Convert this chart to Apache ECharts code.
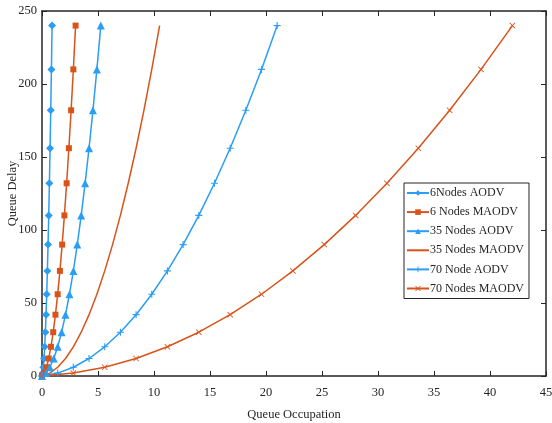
<!DOCTYPE html>
<html>
<head>
<meta charset="utf-8">
<script src="https://cdn.jsdelivr.net/npm/echarts@6/dist/echarts.min.js"></script>
<style>
  html, body { margin: 0; padding: 0; background: #fff; }
  #chart { width: 552px; height: 423px; }
</style>
</head>
<body>
<div id="chart"></div>
<script>
// Queue delay values shared by every curve
const queueDelay = [0, 2, 6, 12, 20, 30, 42, 56, 72, 90, 110, 132, 156, 182, 210, 240];

// Queue occupation for each scenario
const occ6Aodv   = [0, 0.06, 0.12, 0.18, 0.24, 0.30, 0.36, 0.42, 0.48, 0.54, 0.60, 0.66, 0.72, 0.78, 0.84, 0.90];
const occ6Maodv  = [0, 0.2, 0.4, 0.6, 0.8, 1.0, 1.2, 1.4, 1.6, 1.8, 2.0, 2.2, 2.4, 2.6, 2.8, 3.0];
const occ35Aodv  = [0, 0.35, 0.7, 1.05, 1.4, 1.75, 2.1, 2.45, 2.8, 3.15, 3.5, 3.85, 4.2, 4.55, 4.9, 5.25];
const occ35Maodv = [0, 0.7, 1.4, 2.1, 2.8, 3.5, 4.2, 4.9, 5.6, 6.3, 7.0, 7.7, 8.4, 9.1, 9.8, 10.5];
const occ70Aodv  = [0, 1.4, 2.8, 4.2, 5.6, 7.0, 8.4, 9.8, 11.2, 12.6, 14.0, 15.4, 16.8, 18.2, 19.6, 21.0];
const occ70Maodv = [0, 2.8, 5.6, 8.4, 11.2, 14.0, 16.8, 19.6, 22.4, 25.2, 28.0, 30.8, 33.6, 36.4, 39.2, 42.0];

const seriesNames = ['6Nodes AODV', '6 Nodes MAODV', '35 Nodes AODV', '35 Nodes MAODV', '70 Node AODV', '70 Nodes MAODV'];
const xTicks = [0, 5, 10, 15, 20, 25, 30, 35, 40, 45];
const yTicks = [0, 50, 100, 150, 200, 250];

const BLUE = '#2a9df4';
const ORANGE = '#d95319';
const AXIS = '#262626';
const FONT = 'Liberation Serif';

const plusPath = 'path://M4.2,0H5.8V4.2H10V5.8H5.8V10H4.2V5.8H0V4.2H4.2Z';
const starPath = 'path://M1,0L5,4L9,0L10,1L6,5L10,9L9,10L5,6L1,10L0,9L4,5L0,1Z';

function pairs(xs) {
  return xs.map((x, i) => [x, queueDelay[i]]);
}

function makeSeries(name, xs, color, symbol, size) {
  return {
    name: name,
    type: 'line',
    data: pairs(xs),
    symbol: symbol,
    symbolSize: size,
    showSymbol: symbol !== 'none',
    lineStyle: { color: color, width: 1.5 },
    itemStyle: { color: color },
    emphasis: { disabled: true },
    animation: false
  };
}

const chart = echarts.init(document.getElementById('chart'), null, { renderer: 'canvas' });

const axisCommon = {
  axisLine: { show: true, onZero: false, lineStyle: { color: AXIS, width: 1.5 } },
  axisTick: { show: true, inside: true, length: 5, lineStyle: { color: AXIS, width: 1 } },
  splitLine: { show: false }
};

// Legend entries; the plain orange curve gets a bare line icon
const legendData = seriesNames.map((n, i) => (i === 3
  ? { name: n, itemStyle: { color: 'rgba(0,0,0,0)', borderWidth: 0 } }
  : { name: n }));

chart.setOption({
  backgroundColor: '#fff',
  animation: false,
  grid: { left: 42, right: 6, top: 11, bottom: 47, containLabel: false, outerBoundsMode: 'none' },
  legend: {
    data: legendData,
    orient: 'vertical',
    left: 404,
    top: 183,
    backgroundColor: '#fff',
    borderColor: AXIS,
    borderWidth: 1,
    padding: [4, 5, 4, 2],
    itemGap: 7.1,
    itemWidth: 22,
    itemHeight: 7,
    textStyle: { fontFamily: FONT, fontSize: 12, color: AXIS, padding: [0, 0, 0, -4] }
  },
  xAxis: [
    Object.assign({}, axisCommon, {
      type: 'value', min: 0, max: 45, interval: 5, position: 'bottom',
      name: 'Queue Occupation', nameLocation: 'middle', nameGap: 32, nameMoveOverlap: false,
      nameTextStyle: { fontFamily: FONT, fontSize: 12.5, color: AXIS },
      axisLabel: {
        fontFamily: FONT, fontSize: 12.5, color: AXIS, margin: 10,
        formatter: v => (xTicks.indexOf(v) >= 0 ? String(v) : '')
      }
    }),
    Object.assign({}, axisCommon, {
      type: 'value', min: 0, max: 45, interval: 5, position: 'top',
      axisLabel: { show: false }
    })
  ],
  yAxis: [
    Object.assign({}, axisCommon, {
      type: 'value', min: 0, max: 250, interval: 50, position: 'left',
      name: 'Queue Delay', nameLocation: 'middle', nameGap: 23, nameMoveOverlap: false,
      nameTextStyle: { fontFamily: FONT, fontSize: 12.5, color: AXIS },
      axisLabel: {
        fontFamily: FONT, fontSize: 12.5, color: AXIS, margin: 5,
        formatter: v => (yTicks.indexOf(v) >= 0 ? String(v) : '')
      }
    }),
    Object.assign({}, axisCommon, {
      type: 'value', min: 0, max: 250, interval: 50, position: 'right',
      axisLabel: { show: false }
    })
  ],
  series: [
    makeSeries(seriesNames[0], occ6Aodv, BLUE, 'diamond', 8),
    makeSeries(seriesNames[1], occ6Maodv, ORANGE, 'rect', 6),
    makeSeries(seriesNames[2], occ35Aodv, BLUE, 'triangle', 8),
    makeSeries(seriesNames[3], occ35Maodv, ORANGE, 'none', 0),
    makeSeries(seriesNames[4], occ70Aodv, BLUE, plusPath, 7),
    makeSeries(seriesNames[5], occ70Maodv, ORANGE, starPath, 6)
  ]
});
</script>
</body>
</html>
